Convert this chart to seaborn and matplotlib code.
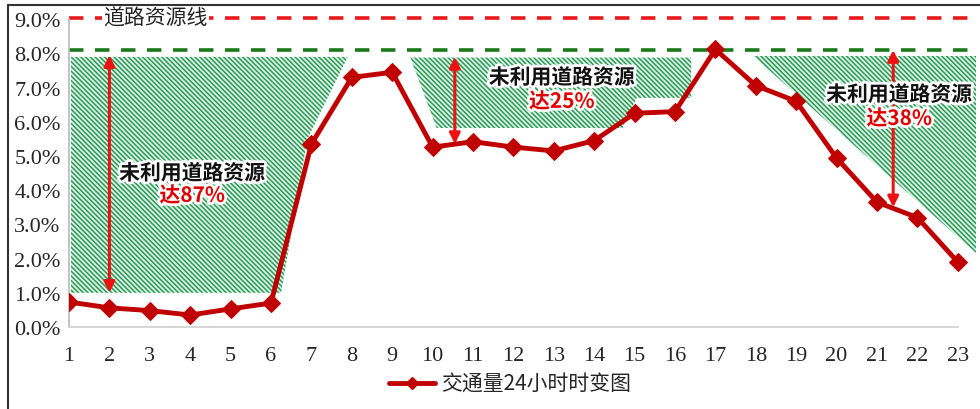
import matplotlib
matplotlib.use("Agg")
import matplotlib.pyplot as plt
import matplotlib.patheffects as pe
from matplotlib.patches import Polygon
from matplotlib.lines import Line2D
import seaborn as sns
import pandas as pd

# ---- data ----
hours = list(range(1, 24))
traffic = [0.73, 0.56, 0.48, 0.35, 0.53, 0.70, 5.35, 7.30, 7.45, 5.26, 5.42, 5.26,
           5.15, 5.45, 6.25, 6.30, 8.12, 7.06, 6.60, 4.94, 3.65, 3.20, 1.90]
ytick_vals = [0, 1, 2, 3, 4, 5, 6, 7, 8, 9]
road_line = 9.05      # 道路资源线
capacity_line = 8.1   # green dashed
series_name = "交通量24小时时变图"
ann_title = "未利用道路资源"
ann_pcts = ["达87%", "达25%", "达38%"]
# unused-resource regions (hour, %)
region1 = [(1.05, 7.9), (7.9, 7.9), (6.9, 5.5), (6.25, 1.0), (1.05, 1.0)]
region2 = [(9.45, 7.88), (16.4, 7.88), (16.4, 6.7), (15.05, 6.7), (14.7, 5.82), (10.1, 5.82)]
region3 = [(17.93, 7.94), (23.45, 7.94), (23.45, 2.15)]
arrows = [(2.0, 7.95, 1.0), (10.55, 7.9, 5.35), (21.4, 8.1, 3.5)]

sns.set_theme(style="white")
plt.rcParams['font.family'] = ['Noto Sans CJK SC', 'DejaVu Sans']
plt.rcParams['hatch.linewidth'] = 1.1
plt.rcParams['hatch.color'] = '#2a9a58'

fig = plt.figure(figsize=(9.8, 4.1), dpi=100)
ax = fig.add_axes([69/980, 82/410, (976-69)/980, 318/410])

df = pd.DataFrame({"hour": hours, "traffic": traffic, "series": series_name})

# hatched regions
for reg in [region1, region2, region3]:
    ax.add_patch(Polygon(reg, closed=True, facecolor="#dcf1e3", edgecolor="#2a9a58",
                         hatch="\\" * 7, linewidth=0, zorder=1))

# dashed lines
ax.axhline(road_line, color="#e8191b", lw=2.6, ls=(0, (4, 3.2)), zorder=2)
ax.axhline(capacity_line, color="#1a7a1a", lw=2.6, ls=(0, (4, 3.2)), zorder=2)
ax.text(1.85, road_line, "道路资源线", fontsize=15, va="center", ha="left",
        color="#222222", zorder=3,
        bbox=dict(facecolor="white", edgecolor="none", pad=1))

sns.lineplot(data=df, x="hour", y="traffic", ax=ax, color="#c00000", lw=3.5,
             marker="D", markersize=9, markeredgecolor="#c00000", legend=False, zorder=5)

# arrows
for x, y0, y1 in arrows:
    ax.annotate("", xy=(x, y0), xytext=(x, y1),
                arrowprops=dict(arrowstyle="<|-|>", color="#ee1111", lw=2.2,
                                mutation_scale=16, shrinkA=0, shrinkB=0), zorder=6)

stroke = [pe.withStroke(linewidth=4, foreground="white")]
ann_pos = [(4.05, 4.5, 3.85), (13.2, 7.3, 6.6), (21.55, 6.8, 6.1)]
for (x, y_t, y_p), pct in zip(ann_pos, ann_pcts):
    ax.text(x, y_t, ann_title, fontsize=15, fontweight="bold", color="#111111",
            ha="center", va="center", path_effects=stroke, zorder=7)
    ax.text(x, y_p, pct, fontsize=15, fontweight="bold", color="#e00000",
            ha="center", va="center", path_effects=stroke, zorder=7)

ax.set_xlim(1, 23.45)
ax.set_ylim(0, 9.3)
ax.set_xticks(hours)
ax.set_xticklabels([str(h) for h in hours], fontsize=16, family="Liberation Serif")
ax.set_yticks(ytick_vals)
ax.set_yticklabels([f"{v:.1f}%" for v in ytick_vals], fontsize=16, family="Liberation Serif")
ax.tick_params(axis="y", length=0, pad=6)
ax.tick_params(axis="x", length=0, pad=14)
ax.set_xlabel("")
ax.set_ylabel("")
for s in ["top", "right"]:
    ax.spines[s].set_visible(False)
ax.spines["left"].set_color("#bbbbbb")
ax.spines["left"].set_bounds(0, 9.0)
ax.spines["bottom"].set_color("#d0d0d0")
ax.spines["bottom"].set_bounds(1, 23)

handle = Line2D([], [], color="#c00000", lw=3.5, marker="D", markersize=6)
fig.legend([handle], [series_name], loc="center", bbox_to_anchor=(510/980, 1 - 385/410),
           frameon=False, fontsize=15, handlelength=2.2, handletextpad=0.3)

# outer frame (left and top)
fig.add_artist(Line2D([8/980, 8/980], [0, 1 - 6/410], color="#333333", lw=1.5,
                      transform=fig.transFigure))
fig.add_artist(Line2D([8/980, 1], [1 - 6/410, 1 - 6/410], color="#333333", lw=1.5,
                      transform=fig.transFigure))

fig.savefig("out.png", dpi=100)
